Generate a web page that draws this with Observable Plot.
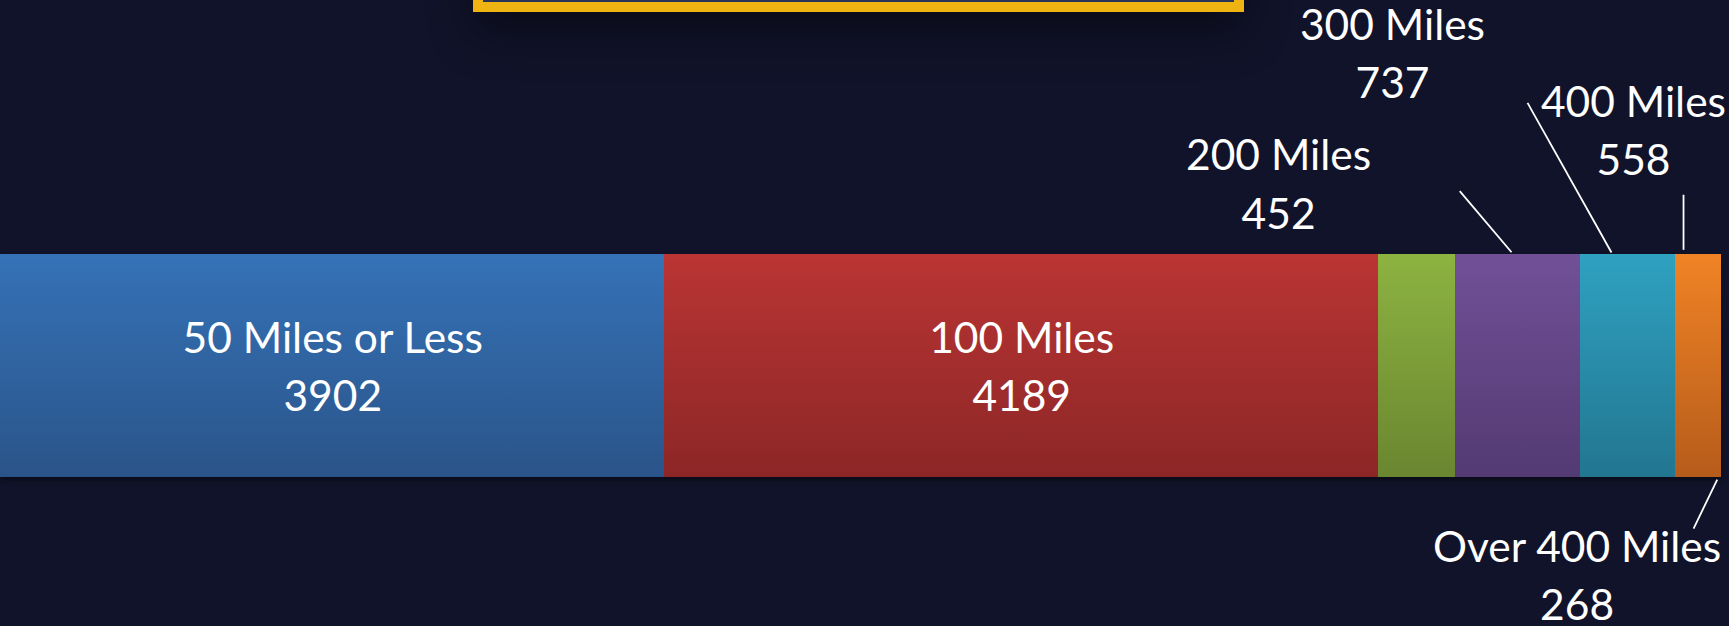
<!DOCTYPE html>
<html><head><meta charset="utf-8">
<script src="https://cdn.jsdelivr.net/npm/d3@7"></script>
<script src="https://cdn.jsdelivr.net/npm/@observablehq/plot@0.6"></script>
<style>
html,body{margin:0;padding:0;background:#11132a;width:1729px;height:626px;overflow:hidden;}
#wrap{position:relative;width:1729px;height:626px;}
#titlebox{position:absolute;left:473px;top:-100px;width:771px;height:112px;box-sizing:border-box;border:10px solid #efb412;background:#283358;box-shadow:0 20px 45px rgba(0,0,0,0.45);z-index:2;}
#chart{position:absolute;left:0;top:0;}
#err{position:absolute;left:20px;top:200px;color:#ff8;font:16px monospace;white-space:pre-wrap;z-index:5;}
</style></head>
<body><div id="wrap"><div id="titlebox"></div><div id="chart"></div><div id="err"></div></div>
<script>
// categories and counts
const categories = ["50 Miles or Less", "100 Miles", "200 Miles", "300 Miles", "400 Miles", "Over 400 Miles"];
const counts = [3902, 4189, 452, 737, 558, 268];
// which labels sit inside their bar segment
const insideLabel = [true, true, false, false, false, false];
// gradient colours (top / bottom of each segment)
const gradientTop = ["#3572b7", "#ba3534", "#8db341", "#715097", "#2fa1c1", "#f08325"];
const gradientBottom = ["#2a5489", "#8c2626", "#6a8630", "#533a73", "#227690", "#b65c1b"];
// placement of the outside labels (x in counts, y in bar heights: bar spans 0..1)
const outsideLabel = ["200 Miles", "300 Miles", "400 Miles", "Over 400 Miles"];
const outsideX = [7505, 8174, 9589, 9258];
const outsideY = [1.317, 1.902, 1.556, -0.438];
// leader lines (same units)
const leaderX1 = [8569, 8967, 9883, 10081];
const leaderY1 = [1.284, 1.680, 1.268, -0.009];
const leaderX2 = [8873, 9460, 9883, 9942];
const leaderY2 = [1.010, 1.009, 1.021, -0.229];

try {
  const data = categories.map((c, i) => ({category: c, count: counts[i], inside: insideLabel[i], y1: 0, y2: 1, ym: 0.5}));
  const outside = outsideLabel.map((c, i) => ({category: c, count: counts[categories.indexOf(c)], x: outsideX[i], y: outsideY[i]}));
  const leaders = leaderX1.map((_, i) => ({x1: leaderX1[i], y1: leaderY1[i], x2: leaderX2[i], y2: leaderY2[i]}));

  const textStyle = {fill: "white", fontSize: 42.5, lineHeight: 1.37, dy: -3, fontFamily: "Lato, 'Open Sans', sans-serif"};

  const svg = Plot.plot({
    width: 1729,
    height: 626,
    marginLeft: 0,
    marginRight: 8,
    marginTop: 0,
    marginBottom: 0,
    style: {background: "transparent", color: "white", overflow: "visible"},
    x: {domain: [0, d3.sum(counts)], axis: null},
    y: {domain: [-0.668, 2.139], axis: null},
    color: {type: "ordinal", domain: categories, range: categories.map((_, i) => `url(#grad${i})`)},
    marks: [
      Plot.rectX(data, Plot.stackX({x: "count", y1: "y1", y2: "y2", fill: "category", shapeRendering: "crispEdges"})),
      Plot.text(data, Plot.stackX({x: "count", y: "ym", text: d => d.inside ? `${d.category}\n${d.count}` : null, ...textStyle})),
      Plot.text(outside, {x: "x", y: "y", text: d => `${d.category}\n${d.count}`, ...textStyle}),
      Plot.link(leaders, {x1: "x1", y1: "y1", x2: "x2", y2: "y2", stroke: "white", strokeWidth: 1.8})
    ]
  });

  const defs = d3.select(svg).insert("defs", ":first-child");
  categories.forEach((c, i) => {
    const g = defs.append("linearGradient").attr("id", `grad${i}`)
      .attr("x1", 0).attr("y1", 0).attr("x2", 0).attr("y2", 1);
    g.append("stop").attr("offset", 0).attr("stop-color", gradientTop[i]);
    g.append("stop").attr("offset", 1).attr("stop-color", gradientBottom[i]);
  });
  d3.select(svg).select("g[aria-label='rect']").style("filter", "drop-shadow(0px 3px 3px rgba(0,0,0,0.45))");

  document.getElementById("chart").appendChild(svg);
} catch (e) {
  document.getElementById("err").textContent = String(e && e.stack || e);
}
</script>
</body></html>
